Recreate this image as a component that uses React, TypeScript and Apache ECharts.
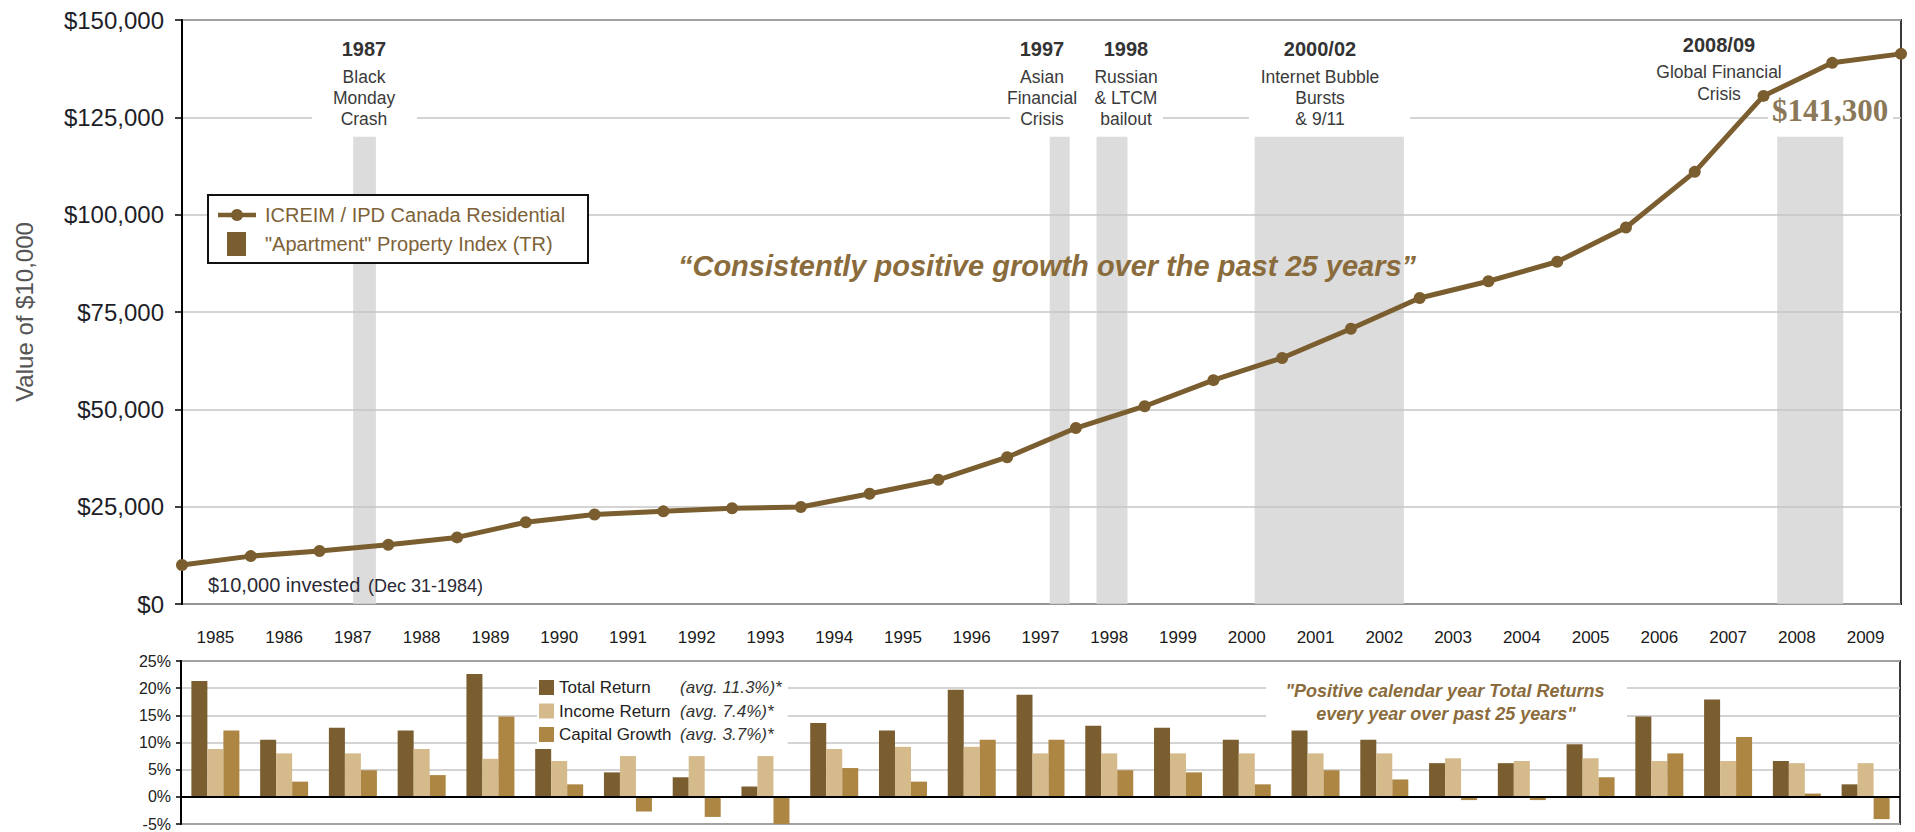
import React, { useEffect, useRef } from "react";
import * as echarts from "echarts";

// ---------- DATA ----------
// Growth of $10,000 (point 0 = Dec 31 1984, then year-ends 1985..2009)
const POINT_LABELS = ["Dec-1984", "1985", "1986", "1987", "1988", "1989", "1990", "1991", "1992", "1993", "1994", "1995", "1996", "1997", "1998", "1999", "2000", "2001", "2002", "2003", "2004", "2005", "2006", "2007", "2008", "2009"];
const GROWTH_VALUES = [10000, 12300, 13600, 15200, 17100, 21000, 23000, 23800, 24600, 24900, 28300, 31900, 37700, 45200, 50800, 57500, 63200, 70700, 78600, 82900, 87900, 96700, 111000, 130500, 139000, 141300];

// Calendar-year returns (%)
const YEARS = ["1985", "1986", "1987", "1988", "1989", "1990", "1991", "1992", "1993", "1994", "1995", "1996", "1997", "1998", "1999", "2000", "2001", "2002", "2003", "2004", "2005", "2006", "2007", "2008", "2009"];
const TOTAL_RETURN = [21.3, 10.5, 12.7, 12.2, 22.6, 8.8, 4.5, 3.6, 1.9, 13.6, 12.2, 19.7, 18.8, 13.1, 12.7, 10.5, 12.2, 10.5, 6.2, 6.2, 9.7, 14.8, 17.9, 6.6, 2.3];
const INCOME_RETURN = [8.8, 8.0, 8.0, 8.8, 7.0, 6.6, 7.5, 7.5, 7.5, 8.8, 9.2, 9.2, 8.0, 8.0, 8.0, 8.0, 8.0, 8.0, 7.1, 6.6, 7.1, 6.6, 6.6, 6.2, 6.2];
const CAPITAL_GROWTH = [12.2, 2.8, 4.9, 4.0, 14.8, 2.3, -2.7, -3.7, -5.3, 5.3, 2.8, 10.5, 10.5, 4.9, 4.5, 2.3, 4.9, 3.2, -0.6, -0.6, 3.6, 8.0, 11.0, 0.6, -4.1];
const RETURN_NAMES = ["Total Return", "Income Return", "Capital Growth"];
const RETURN_AVGS = ["(avg. 11.3%)*", "(avg. 7.4%)*", "(avg. 3.7%)*"];

// Crisis events: span in years after Dec-1984 and band height
const EVENT_TITLES = ["1987", "1997", "1998", "2000/02", "2008/09"];
const EVENT_LINES = [
  ["Black", "Monday", "Crash"],
  ["Asian", "Financial", "Crisis"],
  ["Russian", "& LTCM", "bailout"],
  ["Internet Bubble", "Bursts", "& 9/11"],
  ["Global Financial", "Crisis"],
];
const EVENT_SPANS = [
  [2.49, 2.82],
  [12.62, 12.91],
  [13.3, 13.75],
  [15.6, 17.77],
  [23.2, 24.16],
];
const BAND_TOP = 120000;
const FINAL_VALUE_LABEL = "$141,300";

// ---------- LAYOUT / STYLE ----------
const FONT = "'Liberation Sans', Arial, Helvetica, sans-serif";
const BROWN = "#7b5e2f";
const TAN = "#d5bb8b";
const GOLD = "#ae8644";
const QUOTE = "#8a6b3c";
const EVENT_LAYOUT = [
  { cx: 364, ty: 49, dy: 77, lh: 21, gap: [312, 417] },
  { cx: 1042, ty: 49, dy: 77, lh: 21, gap: [1010, 1163] },
  { cx: 1126, ty: 49, dy: 77, lh: 21, gap: null },
  { cx: 1320, ty: 49, dy: 77, lh: 21, gap: [1249, 1410] },
  { cx: 1719, ty: 45, dy: 72, lh: 22, gap: null },
];

function txt(text: string, x: number, y: number, o: any = {}) {
  const align = o.align || "center";
  const va = o.va || "middle";
  return {
    type: "text",
    x,
    y,
    z: 101,
    silent: true,
    style: {
      text,
      fill: o.fill || "#333",
      fontSize: o.size || 17,
      fontWeight: o.weight || "normal",
      fontStyle: o.style || "normal",
      fontFamily: o.family || FONT,
      lineHeight: o.lh,
      align,
      verticalAlign: va,
      textAlign: align,
      textVerticalAlign: va,
    },
  };
}

function whiteRect(x: number, y: number, w: number, h: number) {
  return { type: "rect", z: 100, silent: true, shape: { x, y, width: w, height: h }, style: { fill: "#ffffff" } };
}

export default function App() {
  const ref = useRef<HTMLDivElement>(null);

  useEffect(() => {
    document.body.style.margin = "0";
    if (!ref.current) return;
    const chart = echarts.init(ref.current, null, { renderer: "svg" });

    const graphics: any[] = [];
    // white gaps on the $125,000 gridline behind the event captions
    EVENT_LAYOUT.forEach((l) => {
      if (l.gap) graphics.push(whiteRect(l.gap[0], 111, l.gap[1] - l.gap[0], 13));
    });
    graphics.push(whiteRect(1768, 111, 125, 13));
    EVENT_TITLES.forEach((t, i) => {
      const l = EVENT_LAYOUT[i];
      graphics.push(txt(t, l.cx, l.ty, { size: 20, weight: "bold", fill: "#333" }));
      graphics.push(
        txt(EVENT_LINES[i].join("\n"), l.cx, l.dy - l.lh / 2, { size: 17.5, fill: "#3a3a3a", va: "top", lh: l.lh })
      );
    });
    graphics.push(txt(FINAL_VALUE_LABEL, 1830, 110, { size: 31, weight: "bold", fill: "#8a7858", family: "'Liberation Serif', 'Times New Roman', serif" }));

    // main legend box
    graphics.push({ type: "rect", z: 100, silent: true, shape: { x: 208, y: 195, width: 380, height: 68 }, style: { fill: "#fff", stroke: "#111", lineWidth: 2 } });
    graphics.push({ type: "line", z: 101, silent: true, shape: { x1: 218, y1: 215, x2: 256, y2: 215 }, style: { stroke: BROWN, lineWidth: 4.5 } });
    graphics.push({ type: "circle", z: 102, silent: true, shape: { cx: 237, cy: 215, r: 6 }, style: { fill: BROWN } });
    graphics.push({ type: "rect", z: 101, silent: true, shape: { x: 227, y: 232, width: 19, height: 24 }, style: { fill: BROWN } });
    graphics.push(txt("ICREIM / IPD Canada Residential", 265, 215, { size: 20, fill: "#7d6238", align: "left" }));
    graphics.push(txt('"Apartment" Property Index (TR)', 265, 244, { size: 20, fill: "#7d6238", align: "left" }));

    // quote on main chart
    graphics.push(txt("\u201cConsistently positive growth over the past 25 years\u201d", 1047, 266, { size: 29, weight: "bold", style: "italic", fill: QUOTE }));

    // start note
    graphics.push(txt("$10,000 invested", 208, 585, { size: 20, fill: "#2a2a35", align: "left" }));
    graphics.push(txt("(Dec 31-1984)", 368, 586, { size: 18, fill: "#2a2a35", align: "left" }));

    // bar chart annotation
    graphics.push(whiteRect(1266, 680, 361, 44));
    graphics.push(txt('"Positive calendar year Total Returns', 1445, 691, { size: 18, weight: "bold", style: "italic", fill: QUOTE }));
    graphics.push(txt('every year over past 25 years"', 1446, 714, { size: 18, weight: "bold", style: "italic", fill: QUOTE }));

    const zeroLine = {
      silent: true,
      symbol: ["none", "none"],
      label: { show: false },
      lineStyle: { color: "#000", width: 2, type: "solid" },
      data: [{ yAxis: 0 }],
    };

    const option: any = {
      animation: false,
      textStyle: { fontFamily: FONT },
      grid: [
        { left: 182, top: 20, width: 1719, height: 584, show: true, borderColor: "#3a3a3a", borderWidth: 2 },
        { left: 181, top: 661, width: 1719, height: 164, show: true, borderColor: "#3a3a3a", borderWidth: 2 },
      ],
      xAxis: [
        {
          type: "value",
          gridIndex: 0,
          min: 0,
          max: POINT_LABELS.length - 1,
          axisLabel: { show: false },
          axisTick: { show: false },
          splitLine: { show: false },
          axisLine: { show: true, lineStyle: { color: "#000", width: 2 } },
        },
        {
          type: "category",
          gridIndex: 1,
          data: YEARS,
          position: "top",
          axisLine: { show: false },
          axisTick: { show: false },
          axisLabel: { fontSize: 17, color: "#1a1a1a", margin: 15, interval: 0 },
        },
      ],
      yAxis: [
        {
          type: "value",
          gridIndex: 0,
          min: 0,
          max: 150000,
          interval: 25000,
          z: 2,
          name: "Value of $10,000",
          nameLocation: "middle",
          nameRotate: 90,
          nameGap: 146,
          nameTextStyle: { fontSize: 24, color: "#555" },
          axisLine: { show: true, lineStyle: { color: "#000", width: 2 } },
          axisTick: { show: true, length: 7, lineStyle: { color: "#000", width: 1.5 } },
          axisLabel: { fontSize: 24, color: "#1e1e28", margin: 18, formatter: (v: number) => "$" + v.toLocaleString("en-US") },
          splitLine: { lineStyle: { color: "#c6c6c6", width: 1.5 } },
        },
        {
          type: "value",
          gridIndex: 1,
          min: -5,
          max: 25,
          interval: 5,
          axisLine: { show: true, lineStyle: { color: "#000", width: 2 } },
          axisTick: { show: true, length: 5, lineStyle: { color: "#000", width: 1.5 } },
          axisLabel: { fontSize: 16, color: "#222", margin: 10, formatter: "{value}%" },
          splitLine: { lineStyle: { color: "#c6c6c6", width: 1.5 } },
        },
      ],
      legend: {
        data: RETURN_NAMES,
        orient: "vertical",
        left: 537,
        top: 677,
        itemWidth: 15,
        itemHeight: 15,
        itemGap: 6.5,
        icon: "rect",
        selectedMode: false,
        backgroundColor: "#fff",
        padding: [2, 6, 2, 2],
        formatter: (name: string) => `{n|${name}}{a|${RETURN_AVGS[RETURN_NAMES.indexOf(name)]}}`,
        textStyle: {
          fontSize: 17,
          color: "#222",
          rich: {
            n: { fontSize: 17, color: "#222", width: 121 },
            a: { fontSize: 17, color: "#333", fontStyle: "italic" },
          },
        },
      },
      graphic: graphics,
      series: [
        {
          type: "line",
          name: "bands",
          xAxisIndex: 0,
          yAxisIndex: 0,
          data: [],
          z: 1,
          silent: true,
          markArea: {
            silent: true,
            itemStyle: { color: "#dcdcdc" },
            data: EVENT_SPANS.map(([s, e]) => [
              { xAxis: s, yAxis: 0 },
              { xAxis: e, yAxis: BAND_TOP },
            ]),
          },
        },
        {
          type: "line",
          name: "ICREIM / IPD Canada Residential",
          xAxisIndex: 0,
          yAxisIndex: 0,
          z: 3,
          data: GROWTH_VALUES.map((v, i) => [i, v]),
          symbol: "circle",
          symbolSize: 12,
          clip: false,
          lineStyle: { color: BROWN, width: 5 },
          itemStyle: { color: BROWN },
        },
        {
          type: "bar",
          name: RETURN_NAMES[0],
          xAxisIndex: 1,
          yAxisIndex: 1,
          data: TOTAL_RETURN,
          barWidth: 16,
          barGap: "0%",
          itemStyle: { color: BROWN },
          markLine: zeroLine,
        },
        {
          type: "bar",
          name: RETURN_NAMES[1],
          xAxisIndex: 1,
          yAxisIndex: 1,
          data: INCOME_RETURN,
          barWidth: 16,
          barGap: "0%",
          itemStyle: { color: TAN },
        },
        {
          type: "bar",
          name: RETURN_NAMES[2],
          xAxisIndex: 1,
          yAxisIndex: 1,
          data: CAPITAL_GROWTH,
          barWidth: 16,
          barGap: "0%",
          itemStyle: { color: GOLD },
        },
      ],
    };

    chart.setOption(option);
    return () => chart.dispose();
  }, []);

  return <div ref={ref} style={{ width: 1915, height: 832 }} />;
}
